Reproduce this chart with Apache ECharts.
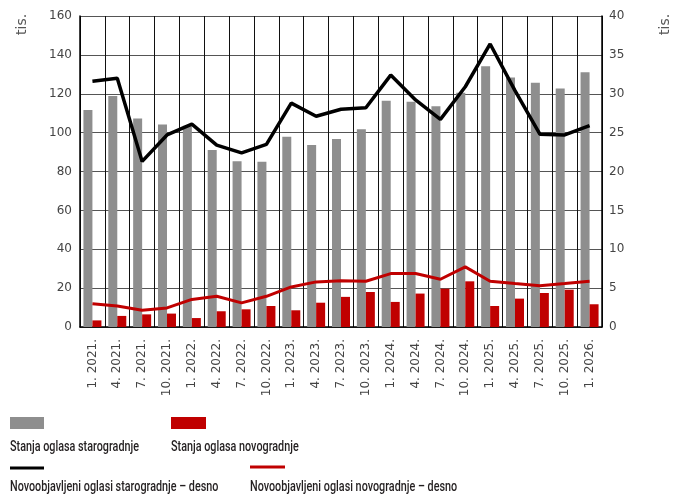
<!DOCTYPE html>
<html>
<head>
<meta charset="utf-8">
<script src="https://cdn.jsdelivr.net/npm/echarts@6/dist/echarts.min.js"></script>
<style>
    html, body { margin: 0; padding: 0; background: #fff; }
    #chart { width: 682px; height: 498px; }
</style>
</head>
<body>
<div id="chart"></div>
<script>
// kvartali
const quarters = ['1. 2021.', '4. 2021.', '7. 2021.', '10. 2021.', '1. 2022.', '4. 2022.', '7. 2022.', '10. 2022.',
    '1. 2023.', '4. 2023.', '7. 2023.', '10. 2023.', '1. 2024.', '4. 2024.', '7. 2024.', '10. 2024.',
    '1. 2025.', '4. 2025.', '7. 2025.', '10. 2025.', '1. 2026.']
// lijeva os (tis.)
const stanjaStaro = [111.6, 118.8, 107.3, 104.2, 103.5, 91.0, 85.3, 85.0, 97.9, 93.6, 96.7, 101.8,
    116.4, 115.9, 113.6, 120.5, 134.2, 128.4, 125.7, 122.7, 131.0]
const stanjaNovo = [3.4, 5.7, 6.5, 6.9, 4.6, 8.1, 9.1, 10.8, 8.6, 12.5, 15.5, 18.0,
    12.9, 17.2, 19.7, 23.5, 10.8, 14.6, 17.5, 19.2, 11.7]
// desna os (tis.)
const novoStaro = [31.6, 32.0, 21.3, 24.7, 26.1, 23.4, 22.4, 23.5, 28.8, 27.1, 28.0, 28.2,
    32.4, 29.2, 26.7, 30.9, 36.4, 30.4, 24.8, 24.7, 25.9]
const novoNovo = [3.0, 2.7, 2.15, 2.45, 3.55, 3.95, 3.1, 3.95, 5.15, 5.8, 5.95, 5.88,
    6.87, 6.87, 6.14, 7.73, 5.88, 5.58, 5.32, 5.58, 5.88]

const names = ['Stanja oglasa starogradnje', 'Stanja oglasa novogradnje',
    'Novoobjavljeni oglasi starogradnje – desno', 'Novoobjavljeni oglasi novogradnje – desno']
const GRAY = '#8e8e8e'
const RED = '#c00000'
const axisFont = 'DejaVu Sans'
const legendFont = 'normal 500 14px Roboto'

const chart = echarts.init(document.getElementById('chart'), null, { renderer: 'canvas' })

// legenda je uska (condensed) - stisni Roboto
const ctx = document.createElement('canvas').getContext('2d')
ctx.font = legendFont
const squeeze = 129 / ctx.measureText(names[0]).width

function legendLabel(x, y, text) {
    return {
        type: 'text', x: x, y: y, scaleX: squeeze,
        style: { text: text, font: legendFont, fill: '#231f20', textVerticalAlign: 'middle' }
    }
}

chart.setOption({
    backgroundColor: '#fff',
    animation: false,
    grid: { left: 80, right: 80, top: 16, bottom: 171 },
    xAxis: {
        type: 'category',
        data: quarters,
        boundaryGap: true,
        axisLine: { lineStyle: { color: '#000', width: 1.5 } },
        axisTick: { show: false },
        splitLine: { show: true, lineStyle: { color: '#111', width: 1 } },
        axisLabel: { rotate: 90, margin: 12, interval: 0, fontSize: 12, fontFamily: axisFont, color: '#444' }
    },
    yAxis: [{
        type: 'value', min: 0, max: 160, interval: 20,
        axisLine: { show: true, lineStyle: { color: '#000', width: 1.5 } },
        axisTick: { show: false },
        splitLine: { lineStyle: { color: '#555', width: 1 } },
        axisLabel: { fontSize: 12, fontFamily: axisFont, color: '#444', margin: 8 }
    }, {
        type: 'value', min: 0, max: 40, interval: 5,
        axisLine: { show: true, lineStyle: { color: '#000', width: 1.5 } },
        axisTick: { show: false },
        splitLine: { show: false },
        axisLabel: { fontSize: 12, fontFamily: axisFont, color: '#444', margin: 7 }
    }],
    series: [{
        name: names[0], type: 'bar', data: stanjaStaro, yAxisIndex: 0,
        barWidth: 9, barGap: '0%', itemStyle: { color: GRAY }
    }, {
        name: names[1], type: 'bar', data: stanjaNovo, yAxisIndex: 0,
        barWidth: 9, barGap: '0%', itemStyle: { color: RED }
    }, {
        name: names[2], type: 'line', data: novoStaro, yAxisIndex: 1,
        showSymbol: false, lineStyle: { color: '#000', width: 3.5 }, itemStyle: { color: '#000' }, z: 5
    }, {
        name: names[3], type: 'line', data: novoNovo, yAxisIndex: 1,
        showSymbol: false, lineStyle: { color: RED, width: 3 }, itemStyle: { color: RED }, z: 4
    }],
    graphic: [
        { type: 'text', x: 22, y: 35, rotation: Math.PI / 2,
          style: { text: 'tis.', font: '14px ' + axisFont, fill: '#555', textVerticalAlign: 'middle' } },
        { type: 'text', x: 665, y: 35, rotation: Math.PI / 2,
          style: { text: 'tis.', font: '14px ' + axisFont, fill: '#555', textVerticalAlign: 'middle' } },
        { type: 'rect', shape: { x: 10, y: 417, width: 34, height: 12 }, style: { fill: GRAY } },
        legendLabel(10, 447, names[0]),
        { type: 'rect', shape: { x: 171, y: 417, width: 35, height: 12 }, style: { fill: RED } },
        legendLabel(171, 447, names[1]),
        { type: 'line', shape: { x1: 10, y1: 468, x2: 44, y2: 468 }, style: { stroke: '#000', lineWidth: 3 } },
        legendLabel(10, 487, names[2]),
        { type: 'line', shape: { x1: 250, y1: 467, x2: 285, y2: 467 }, style: { stroke: RED, lineWidth: 3 } },
        legendLabel(250, 487, names[3])
    ]
})
</script>
</body>
</html>
